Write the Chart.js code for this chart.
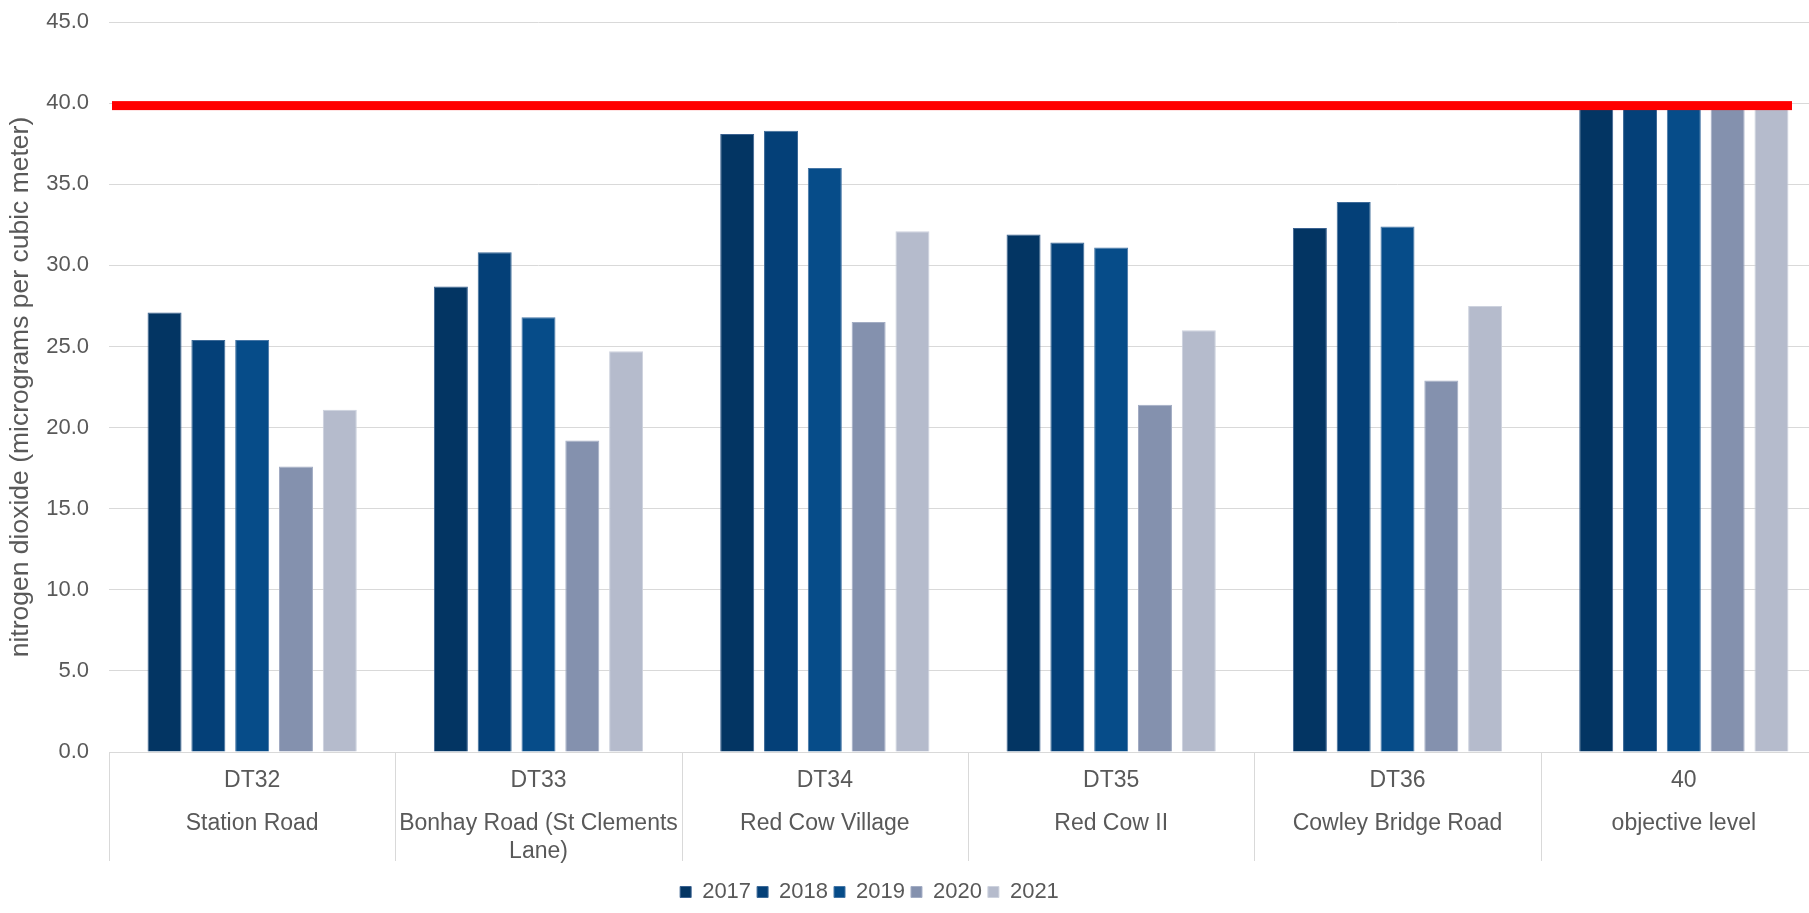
<!DOCTYPE html>
<html>
<head>
<meta charset="utf-8">
<title>Nitrogen dioxide annual means</title>
<script src="https://cdn.jsdelivr.net/npm/chart.js@4.4.1/dist/chart.umd.min.js"></script>
<style>
  html, body { margin: 0; padding: 0; background: #fff; overflow: hidden; }
  #wrap { width: 1827px; height: 913px; }
</style>
</head>
<body>
<div id="wrap"><canvas id="no2Chart" width="1827" height="913"></canvas></div>
<script>
// monitoring sites (tube code + location)
const siteCodes = ["DT32", "DT33", "DT34", "DT35", "DT36", "40"];
const siteNames = [
  "Station Road",
  ["Bonhay Road (St Clements", "Lane)"],
  "Red Cow Village",
  "Red Cow II",
  "Cowley Bridge Road",
  "objective level"
];
const years = ["2017", "2018", "2019", "2020", "2021"];

// annual means, µg/m3
const values2017 = [27.1, 28.7, 38.1, 31.9, 32.3, 40];
const values2018 = [25.4, 30.8, 38.3, 31.4, 33.9, 40];
const values2019 = [25.4, 26.8, 36.0, 31.1, 32.4, 40];
const values2020 = [17.6, 19.2, 26.5, 21.4, 22.9, 40];
const values2021 = [21.1, 24.7, 32.1, 26.0, 27.5, 40];

const objectiveLevel = 40;
const yMin = 0;
const yMax = 45;
const yStep = 5;

const fills = ["#033563", "#044078", "#064c89", "#8491ae", "#b5bbcc"];
const edges = ["#3a6190", "#3d6a98", "#4676a6", "#a3adc4", "#cdd2de"];
const seriesValues = [values2017, values2018, values2019, values2020, values2021];

const GRID = "#d9d9d9";
const TEXT = "#595959";

Chart.defaults.font.family = "'Liberation Sans', Arial, sans-serif";
Chart.defaults.color = TEXT;

// red bar across the plot at the objective level
const objectiveLine = {
  id: "objectiveLine",
  afterDatasetsDraw(chart) {
    const { ctx, chartArea, scales } = chart;
    const py = scales.y.getPixelForValue(objectiveLevel);
    ctx.save();
    ctx.fillStyle = "#ff0000";
    ctx.fillRect(chartArea.left + 3, py - 2, chartArea.right - chartArea.left - 38, 9);
    ctx.restore();
  }
};

// vertical separators between the site groups, through both label rows
const groupDividers = {
  id: "groupDividers",
  afterDraw(chart) {
    const x = chart.scales.x;
    const ctx = chart.ctx;
    const step = x.width / siteCodes.length;
    ctx.save();
    ctx.strokeStyle = GRID;
    ctx.lineWidth = 1;
    for (let i = 0; i <= siteCodes.length; i++) {
      const px = Math.round(x.left + i * step) + 0.5;
      ctx.beginPath();
      ctx.moveTo(px, x.top);
      ctx.lineTo(px, x.top + 109);
      ctx.stroke();
    }
    ctx.restore();
  }
};

// legend sits a little left of centre
const legendOffset = {
  id: "legendOffset",
  afterLayout(chart) {
    chart.legend.right -= 88;
  }
};

const datasets = years.map((yr, i) => ({
  label: yr,
  data: seriesValues[i],
  backgroundColor: fills[i],
  borderColor: edges[i],
  borderWidth: 1,
  barPercentage: 0.776,
  categoryPercentage: 0.765
}));

new Chart(document.getElementById("no2Chart"), {
  type: "bar",
  data: { labels: siteCodes, datasets },
  options: {
    responsive: false,
    animation: false,
    events: [],
    layout: { padding: { top: 22, right: 0, bottom: 0, left: 0 } },
    plugins: {
      tooltip: { enabled: false },
      legend: {
        position: "bottom",
        labels: {
          boxWidth: 11,
          boxHeight: 11,
          padding: 6,
          color: TEXT,
          font: { size: 22 }
        }
      }
    },
    scales: {
      x: {
        offset: true,
        grid: { display: false },
        border: { display: true, color: GRID },
        ticks: {
          color: TEXT,
          font: { size: 23 },
          padding: 7,
          maxRotation: 0,
          autoSkip: false
        },
        afterFit(scale) {
          scale.height = 50;
        }
      },
      names: {
        type: "category",
        position: "bottom",
        labels: siteNames,
        offset: true,
        grid: { display: false },
        border: { display: false },
        ticks: {
          color: TEXT,
          font: { size: 23, lineHeight: 1.25 },
          padding: -1,
          maxRotation: 0,
          autoSkip: false
        },
        afterFit(scale) {
          scale.height = 73;
        }
      },
      y: {
        min: yMin,
        max: yMax,
        grid: { color: GRID, drawTicks: false },
        border: { display: false },
        ticks: {
          stepSize: yStep,
          padding: 20,
          color: TEXT,
          font: { size: 22 },
          callback: (v) => Number(v).toFixed(1)
        },
        title: {
          display: true,
          text: "nitrogen dioxide (micrograms per cubic meter)",
          color: TEXT,
          font: { size: 26.5 },
          padding: { top: 5, bottom: 0 }
        },
        afterFit(scale) {
          scale.width = 109;
          // the tick labels may overhang the plot; don't reserve room for them
          scale.paddingTop = 0;
          scale.paddingBottom = 0;
        }
      }
    }
  },
  plugins: [objectiveLine, groupDividers, legendOffset]
});
</script>
</body>
</html>
